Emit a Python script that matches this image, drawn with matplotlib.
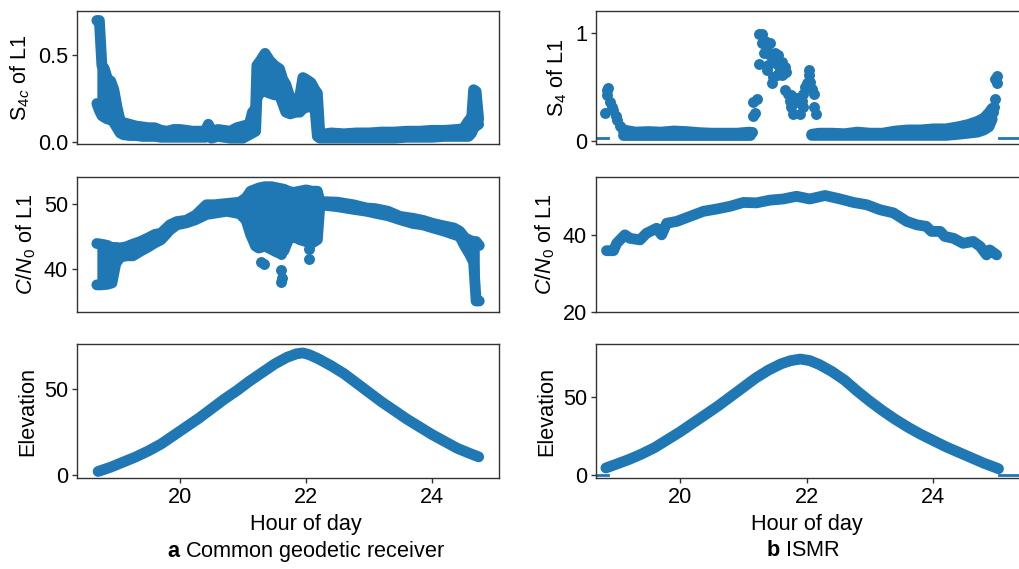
import numpy as np
import matplotlib.pyplot as plt

plt.rcParams['font.family'] = ['Liberation Sans', 'DejaVu Sans']
plt.rcParams['mathtext.fontset'] = 'custom'
plt.rcParams['mathtext.rm'] = 'Liberation Sans'
plt.rcParams['mathtext.it'] = 'Liberation Sans:italic'
plt.rcParams['mathtext.bf'] = 'Liberation Sans:bold'
plt.rcParams['font.size'] = 15.6

BLUE = '#1f77b4'
EDGE = '#333333'

# ---- a: receptor geodesico comun ----
# S4c de L1 (envolvente inferior / superior)
geo_s4_hr = [18.68, 18.72, 18.76, 18.80, 18.85, 18.90, 18.95, 19.00, 19.05, 19.10,
             19.20, 19.30, 19.40, 19.50, 19.60, 19.70, 19.80, 19.90, 20.00, 20.10,
             20.20, 20.30, 20.40, 20.45, 20.50, 20.60, 20.70, 20.80, 20.90, 21.00,
             21.10, 21.15, 21.20, 21.22, 21.28, 21.35, 21.42, 21.50, 21.58, 21.63,
             21.68, 21.75, 21.83, 21.90, 21.95, 22.00, 22.08, 22.14, 22.18, 22.22,
             22.40, 22.60, 22.80, 23.00, 23.20, 23.40, 23.60, 23.80, 24.00, 24.20,
             24.40, 24.50, 24.58, 24.63, 24.66, 24.70, 24.74]
geo_s4_lo = [0.22, 0.18, 0.15, 0.14, 0.13, 0.13, 0.11, 0.08, 0.05, 0.04,
             0.035, 0.035, 0.03, 0.03, 0.03, 0.025, 0.025, 0.025, 0.025, 0.025,
             0.025, 0.025, 0.025, 0.03, 0.02, 0.03, 0.025, 0.02, 0.02, 0.02,
             0.04, 0.05, 0.06, 0.25, 0.29, 0.29, 0.28, 0.27, 0.27, 0.22,
             0.17, 0.16, 0.17, 0.17, 0.19, 0.20, 0.20, 0.20, 0.03, 0.02,
             0.02, 0.02, 0.02, 0.02, 0.02, 0.02, 0.025, 0.025, 0.025, 0.03,
             0.03, 0.03, 0.03, 0.05, 0.08, 0.09, 0.10]
geo_s4_hi = [0.70, 0.70, 0.44, 0.42, 0.36, 0.35, 0.30, 0.20, 0.12, 0.11,
             0.10, 0.09, 0.085, 0.08, 0.08, 0.065, 0.06, 0.07, 0.07, 0.065,
             0.06, 0.06, 0.06, 0.10, 0.06, 0.07, 0.065, 0.06, 0.08, 0.09,
             0.10, 0.17, 0.19, 0.44, 0.47, 0.51, 0.47, 0.44, 0.42, 0.36,
             0.33, 0.25, 0.24, 0.26, 0.37, 0.36, 0.34, 0.30, 0.28, 0.04,
             0.05, 0.045, 0.05, 0.05, 0.055, 0.055, 0.06, 0.06, 0.065, 0.065,
             0.07, 0.075, 0.12, 0.14, 0.30, 0.29, 0.13]

# C/N0 de L1
geo_cn_hr = [18.68, 18.75, 18.85, 18.92, 18.98, 19.05, 19.15, 19.25, 19.37, 19.50,
             19.60, 19.70, 19.84, 19.95, 20.10, 20.25, 20.42, 20.55, 20.74, 20.85,
             20.95, 21.05, 21.12, 21.20, 21.25, 21.35, 21.45, 21.55, 21.65, 21.72,
             21.80, 21.90, 22.00, 22.10, 22.18, 22.22, 22.50, 22.75, 22.96, 23.10,
             23.30, 23.49, 23.70, 23.85, 24.02, 24.20, 24.35, 24.44, 24.52, 24.60,
             24.66, 24.70, 24.75]
geo_cn_lo = [37.5, 37.5, 37.6, 37.8, 40.8, 41.8, 42.0, 42.0, 42.7, 43.4,
             44.0, 44.5, 46.0, 46.8, 47.1, 47.6, 48.4, 48.6, 48.9, 48.7,
             48.5, 47.5, 45.3, 43.5, 43.2, 43.5, 43.0, 42.5, 42.8, 44.5,
             45.0, 44.5, 44.2, 44.0, 44.5, 49.9, 49.6, 49.2, 48.9, 48.6,
             48.2, 47.6, 47.0, 46.8, 46.3, 45.8, 45.3, 45.0, 43.5, 42.2,
             41.0, 35.0, 35.0]
geo_cn_hi = [43.9, 43.8, 43.6, 43.2, 43.3, 43.2, 43.4, 43.8, 44.2, 44.8,
             45.3, 45.5, 46.8, 47.3, 47.5, 48.3, 49.9, 49.9, 50.1, 50.2,
             50.3, 51.0, 52.0, 52.3, 52.5, 52.7, 52.7, 52.5, 52.3, 52.0,
             51.8, 52.0, 52.2, 52.0, 52.0, 50.4, 50.3, 49.9, 49.4, 49.3,
             48.9, 48.1, 47.8, 47.5, 47.0, 46.6, 46.3, 45.8, 44.8, 44.4,
             44.2, 44.2, 43.6]
geo_cn_dot_hr = [21.29, 21.33, 21.61, 21.61, 21.62, 21.60, 22.04, 22.04]
geo_cn_dot_val = [41.1, 40.8, 39.8, 38.0, 38.5, 42.3, 43.0, 41.5]

# Elevacion
geo_el_hr = [18.70, 18.90, 19.10, 19.30, 19.50, 19.70, 19.90, 20.10, 20.30, 20.50,
             20.70, 20.90, 21.10, 21.30, 21.50, 21.70, 21.85, 21.95, 22.05, 22.20,
             22.40, 22.60, 22.80, 23.00, 23.20, 23.40, 23.60, 23.80, 24.00, 24.20,
             24.40, 24.60, 24.74]
geo_el = [2.0, 4.5, 7.5, 10.5, 14.0, 18.0, 23.0, 28.0, 33.0, 38.5,
          44.0, 49.0, 54.5, 59.5, 64.5, 68.5, 70.5, 71.0, 70.0, 67.5,
          63.5, 59.0, 53.5, 48.0, 42.5, 37.5, 32.5, 28.0, 23.5, 19.5,
          15.5, 12.5, 10.5]

# ---- b: ISMR ----
# S4 de L1: puntos de la perturbacion
ismr_s4_dot_hr = [18.82, 18.85, 18.87, 18.84, 18.89, 18.92, 18.95, 18.99, 19.01, 19.05,
                  19.10, 21.13, 21.16, 21.18, 21.16, 21.22, 21.24, 21.24, 21.29, 21.29,
                  21.34, 21.37, 21.37, 21.42, 21.42, 21.45, 21.47, 21.50, 21.53, 21.55,
                  21.58, 21.61, 21.63, 21.66, 21.61, 21.68, 21.53, 21.47, 21.32, 21.39,
                  21.66, 21.71, 21.74, 21.76, 21.79, 21.82, 21.84, 21.87, 21.89, 21.92,
                  21.95, 21.97, 22.00, 22.03, 22.04, 22.05, 22.08, 22.11, 22.12, 22.15,
                  21.76, 21.95, 24.95, 24.96, 24.97, 24.98, 25.00, 25.01]
ismr_s4_dot_val = [0.26, 0.47, 0.49, 0.42, 0.36, 0.31, 0.28, 0.23, 0.19, 0.14,
                   0.11, 0.08, 0.23, 0.26, 0.36, 0.39, 0.71, 0.99, 0.99, 0.90,
                   0.92, 0.84, 0.65, 0.90, 0.79, 0.53, 0.75, 0.81, 0.71, 0.79,
                   0.65, 0.73, 0.62, 0.68, 0.61, 0.64, 0.61, 0.59, 0.81, 0.70,
                   0.47, 0.43, 0.37, 0.31, 0.25, 0.40, 0.36, 0.40, 0.25, 0.37,
                   0.43, 0.50, 0.53, 0.61, 0.65, 0.54, 0.48, 0.43, 0.31, 0.25,
                   0.42, 0.31, 0.27, 0.31, 0.39, 0.57, 0.60, 0.53]
# S4 de L1: tramos tranquilos (envolvente)
ismr_s4_hr1 = [19.10, 19.30, 19.50, 19.70, 19.90, 20.10, 20.30, 20.50, 20.70, 20.90, 21.10]
ismr_s4_lo1 = [0.05, 0.05, 0.05, 0.05, 0.05, 0.05, 0.05, 0.05, 0.05, 0.05, 0.05]
ismr_s4_hi1 = [0.10, 0.08, 0.085, 0.08, 0.09, 0.085, 0.075, 0.07, 0.07, 0.07, 0.08]
ismr_s4_hr2 = [22.08, 22.20, 22.40, 22.60, 22.80, 23.00, 23.20, 23.40, 23.60, 23.80,
               24.00, 24.20, 24.40, 24.55, 24.70, 24.80, 24.88, 24.93]
ismr_s4_lo2 = [0.05, 0.05, 0.05, 0.05, 0.05, 0.05, 0.05, 0.05, 0.05, 0.05,
               0.05, 0.05, 0.06, 0.07, 0.08, 0.10, 0.13, 0.20]
ismr_s4_hi2 = [0.06, 0.07, 0.07, 0.065, 0.08, 0.07, 0.07, 0.09, 0.10, 0.10,
               0.11, 0.11, 0.13, 0.15, 0.18, 0.21, 0.26, 0.30]
# sin datos (relleno plano)
ismr_gap1_hr = [18.60, 18.86]
ismr_gap2_hr = [25.03, 25.60]
ismr_s4_gap = [0.03, 0.03]
ismr_el_gap = [0.0, 0.0]

# C/N0 de L1
ismr_cn_hr = [18.84, 18.95, 19.00, 19.13, 19.21, 19.37, 19.47, 19.63, 19.71, 19.79,
              19.95, 20.16, 20.37, 20.58, 20.79, 21.00, 21.21, 21.42, 21.63, 21.84,
              22.05, 22.29, 22.53, 22.74, 22.95, 23.16, 23.37, 23.58, 23.74, 23.89,
              23.97, 24.11, 24.18, 24.32, 24.47, 24.63, 24.74, 24.84, 24.89, 25.00]
ismr_cn = [35.9, 35.9, 37.8, 40.0, 39.1, 38.7, 40.4, 41.7, 40.0, 43.0,
           43.5, 44.8, 46.1, 46.7, 47.4, 48.4, 48.3, 49.0, 49.3, 50.0,
           49.3, 50.2, 49.3, 48.4, 47.8, 46.5, 45.7, 43.5, 42.6, 42.2,
           40.9, 40.9, 39.6, 39.1, 37.8, 38.3, 37.0, 34.8, 36.1, 34.8]

# Elevacion
ismr_el_hr = [18.83, 19.00, 19.20, 19.40, 19.60, 19.80, 20.00, 20.20, 20.40, 20.60,
              20.80, 21.00, 21.20, 21.40, 21.60, 21.75, 21.90, 22.05, 22.20, 22.40,
              22.60, 22.80, 23.00, 23.20, 23.40, 23.60, 23.80, 24.00, 24.20, 24.40,
              24.60, 24.80, 25.00, 25.03]
ismr_el = [4.5, 7.0, 10.0, 13.5, 17.5, 22.5, 27.5, 33.0, 38.5, 44.0,
           50.0, 56.0, 62.0, 67.0, 71.0, 73.0, 74.0, 73.0, 70.5, 66.0,
           60.5, 53.5, 47.0, 41.0, 35.5, 30.5, 26.0, 22.0, 18.0, 14.5,
           11.0, 7.5, 4.5, 4.0]

hour_ticks = [20, 22, 24]

LW = 7.8  # grosor equivalente al marcador del scatter


def band(ax, hr, lo, hi):
    ax.fill_between(hr, lo, hi, color=BLUE, lw=0)
    ax.plot(hr, lo, color=BLUE, lw=LW, solid_capstyle='round', solid_joinstyle='round')
    ax.plot(hr, hi, color=BLUE, lw=LW, solid_capstyle='round', solid_joinstyle='round')


def curve(ax, hr, val):
    ax.plot(hr, val, color=BLUE, lw=LW, solid_capstyle='round', solid_joinstyle='round')


def dots(ax, hr, val):
    ax.scatter(hr, val, s=62, color=BLUE, lw=0)


def style(ax, bottom_row):
    for sp in ax.spines.values():
        sp.set_color(EDGE)
        sp.set_linewidth(1.0)
    ax.tick_params(direction='out', length=3.5, width=1.0, color=EDGE, pad=3)
    if bottom_row:
        ax.set_xticks(hour_ticks)
        ax.set_xlabel('Hour of day')
    else:
        ax.tick_params(axis='x', bottom=False, labelbottom=False)


W, H = 1020, 569
fig = plt.figure(figsize=(W / 100, H / 100), dpi=100)

left_x, left_w = 77, 422
right_x, right_w = 596, 434
rows = [(11, 144), (177, 312), (344, 478)]


def make_ax(x, w, row):
    top, bot = rows[row]
    return fig.add_axes([x / W, 1 - bot / H, w / W, (bot - top) / H])


# columna a
ax = make_ax(left_x, left_w, 0)
band(ax, geo_s4_hr, geo_s4_lo, geo_s4_hi)
ax.set_ylim(-0.014, 0.755)
ax.set_yticks([0.0, 0.5])
ax.set_ylabel(r'$\mathrm{S}_{4\mathit{c}}$ of L1')
ax.set_xlim(18.365, 25.063)
style(ax, False)

ax = make_ax(left_x, left_w, 1)
band(ax, geo_cn_hr, geo_cn_lo, geo_cn_hi)
dots(ax, geo_cn_dot_hr, geo_cn_dot_val)
ax.set_ylim(33.3, 54.2)
ax.set_yticks([40, 50])
ax.set_ylabel(r'$C/N_0$ of L1')
ax.set_xlim(18.365, 25.063)
style(ax, False)

ax = make_ax(left_x, left_w, 2)
curve(ax, geo_el_hr, geo_el)
ax.set_ylim(-1.8, 76.2)
ax.set_yticks([0, 50])
ax.set_ylabel('Elevation')
ax.set_xlim(18.365, 25.063)
style(ax, True)
ax.xaxis.label.set_x((306 - left_x) / left_w)

# columna b
ax = make_ax(right_x, right_w, 0)
ax.plot(ismr_gap1_hr, ismr_s4_gap, color=BLUE, lw=2)
ax.plot(ismr_gap2_hr, ismr_s4_gap, color=BLUE, lw=2)
band(ax, ismr_s4_hr1, ismr_s4_lo1, ismr_s4_hi1)
band(ax, ismr_s4_hr2, ismr_s4_lo2, ismr_s4_hi2)
dots(ax, ismr_s4_dot_hr, ismr_s4_dot_val)
ax.set_ylim(-0.03, 1.2)
ax.set_yticks([0, 1])
ax.set_ylabel(r'$\mathrm{S}_4$ of L1')
ax.set_xlim(18.674, 25.527)
style(ax, False)

ax = make_ax(right_x, right_w, 1)
curve(ax, ismr_cn_hr, ismr_cn)
ax.set_ylim(20, 55)
ax.set_yticks([20, 40])
ax.set_ylabel(r'$C/N_0$ of L1')
ax.set_xlim(18.674, 25.527)
style(ax, False)

ax = make_ax(right_x, right_w, 2)
ax.plot(ismr_gap1_hr, ismr_el_gap, color=BLUE, lw=2)
ax.plot(ismr_gap2_hr, ismr_el_gap, color=BLUE, lw=2)
curve(ax, ismr_el_hr, ismr_el)
ax.set_ylim(-1.9, 83.6)
ax.set_yticks([0, 50])
ax.set_ylabel('Elevation')
ax.set_xlim(18.674, 25.527)
style(ax, True)
ax.xaxis.label.set_x((807 - right_x) / right_w)

fig.text(306 / W, 1 - 551 / H, r'$\mathbf{a}$ Common geodetic receiver', ha='center', va='center')
fig.text(803 / W, 1 - 551 / H, r'$\mathbf{b}$ ISMR', ha='center', va='center')

fig.savefig('out.png', dpi=100)
